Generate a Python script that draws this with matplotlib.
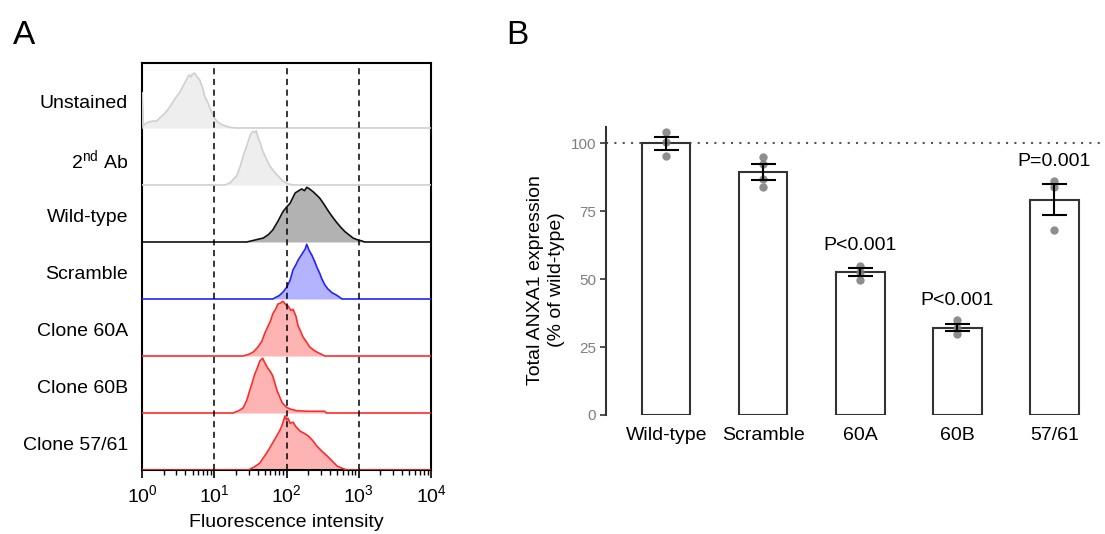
import numpy as np
import matplotlib
matplotlib.use("Agg")
import matplotlib.pyplot as plt
from matplotlib.ticker import LogLocator, NullFormatter

plt.rcParams['font.family'] = ['Liberation Sans', 'DejaVu Sans']
plt.rcParams['mathtext.default'] = 'regular'

# ---- panel A: flow cytometry histograms (log10 intensity, normalised count)
samples = ["Unstained", "2$^{nd}$ Ab", "Wild-type", "Scramble",
           "Clone 60A", "Clone 60B", "Clone 57/61"]

unstained_x = [0.0, 0.02, 0.08, 0.14, 0.20, 0.25, 0.32, 0.39, 0.46, 0.52, 0.57, 0.62, 0.65,
               0.68, 0.70, 0.73, 0.76, 0.80, 0.84, 0.87, 0.91, 0.95, 1.00, 1.05, 1.12, 1.22, 1.30]
unstained_h = [0.62, 0.05, 0.10, 0.12, 0.12, 0.18, 0.26, 0.38, 0.52, 0.62, 0.74, 0.86, 0.93,
               0.90, 0.95, 0.96, 0.90, 0.84, 0.70, 0.55, 0.45, 0.32, 0.18, 0.10, 0.05, 0.01, 0.0]

ab2_x = [1.15, 1.22, 1.31, 1.36, 1.40, 1.44, 1.47, 1.50, 1.53, 1.56, 1.58, 1.61, 1.64,
         1.67, 1.72, 1.77, 1.82, 1.86, 1.95, 2.02, 2.09]
ab2_h = [0.0, 0.04, 0.16, 0.33, 0.51, 0.65, 0.77, 0.88, 0.94, 0.92, 0.95, 0.82, 0.72,
         0.60, 0.46, 0.33, 0.25, 0.19, 0.07, 0.02, 0.0]

wt_x = [1.45, 1.55, 1.68, 1.75, 1.81, 1.88, 1.95, 2.00, 2.05, 2.12, 2.17, 2.21, 2.25, 2.28,
        2.32, 2.37, 2.42, 2.46, 2.52, 2.57, 2.63, 2.69, 2.75, 2.81, 2.92, 3.00, 3.04, 3.08]
wt_h = [0.0, 0.03, 0.07, 0.13, 0.21, 0.36, 0.53, 0.61, 0.68, 0.86, 0.90, 0.93, 0.90, 0.96,
        0.93, 0.88, 0.82, 0.77, 0.66, 0.56, 0.45, 0.35, 0.26, 0.18, 0.07, 0.03, 0.02, 0.0]

scr_x = [1.81, 1.90, 1.95, 2.00, 2.05, 2.09, 2.13, 2.16, 2.20, 2.23, 2.26, 2.28, 2.31,
         2.35, 2.39, 2.42, 2.46, 2.49, 2.53, 2.57, 2.63, 2.69, 2.77]
scr_h = [0.0, 0.06, 0.12, 0.20, 0.33, 0.51, 0.60, 0.68, 0.76, 0.82, 0.88, 0.96, 0.86,
         0.77, 0.66, 0.56, 0.45, 0.35, 0.25, 0.18, 0.11, 0.07, 0.0]

c60a_x = [1.40, 1.48, 1.54, 1.60, 1.66, 1.70, 1.74, 1.78, 1.81, 1.85, 1.88, 1.92, 1.95,
          1.99, 2.02, 2.06, 2.09, 2.13, 2.16, 2.20, 2.23, 2.28, 2.32, 2.38, 2.42, 2.53]
c60a_h = [0.0, 0.03, 0.07, 0.15, 0.26, 0.40, 0.51, 0.62, 0.74, 0.82, 0.91, 0.93, 0.96,
          0.90, 0.88, 0.80, 0.82, 0.70, 0.53, 0.42, 0.33, 0.24, 0.16, 0.10, 0.07, 0.0]

c60b_x = [1.26, 1.34, 1.40, 1.45, 1.49, 1.53, 1.56, 1.60, 1.63, 1.67, 1.70, 1.74, 1.78,
          1.81, 1.84, 1.87, 1.94, 2.00, 2.05, 2.14, 2.30, 2.53, 2.55]
c60b_h = [0.0, 0.04, 0.09, 0.22, 0.39, 0.55, 0.68, 0.80, 0.91, 0.96, 0.88, 0.79, 0.72,
          0.65, 0.52, 0.39, 0.18, 0.10, 0.07, 0.04, 0.03, 0.03, 0.0]

c5761_x = [1.47, 1.55, 1.63, 1.70, 1.77, 1.82, 1.87, 1.91, 1.94, 1.98, 2.00, 2.02, 2.05,
           2.09, 2.13, 2.19, 2.25, 2.30, 2.36, 2.42, 2.49, 2.56, 2.63, 2.70, 2.77, 2.84]
c5761_h = [0.0, 0.05, 0.12, 0.25, 0.39, 0.50, 0.61, 0.70, 0.79, 0.95, 0.88, 0.91, 0.82,
           0.84, 0.76, 0.68, 0.64, 0.60, 0.52, 0.42, 0.33, 0.25, 0.16, 0.07, 0.03, 0.0]

hist_x = [unstained_x, ab2_x, wt_x, scr_x, c60a_x, c60b_x, c5761_x]
hist_h = [unstained_h, ab2_h, wt_h, scr_h, c60a_h, c60b_h, c5761_h]
line_cols = ["#cfcfcf", "#cfcfcf", "#111111", "#2323ff", "#ff2b2b", "#ff2b2b", "#ff2b2b"]
fill_cols = ["#eeeeee", "#eeeeee", "#b2b2b2", "#b3b3ff", "#ffb4b4", "#ffb4b4", "#ffb4b4"]

# ---- panel B: total ANXA1 expression
groups = ["Wild-type", "Scramble", "60A", "60B", "57/61"]
means = [100.0, 89.4, 52.5, 32.2, 79.3]
sems = [2.3, 2.9, 1.5, 1.3, 5.6]
reps = [[104.2, 100.4, 95.2], [94.8, 92.3, 86.7, 83.8], [55.0, 52.5, 49.8],
        [34.8, 32.0, 29.8], [86.0, 84.0, 68.0]]
pvals = ["", "", "P<0.001", "P<0.001", "P=0.001"]

fig = plt.figure(figsize=(11.05, 5.34), dpi=100)
W, H = 1105, 534

axA = fig.add_axes([142 / W, 64 / H, 289 / W, 407 / H])
n = len(samples)
for i in range(n):
    off = n - 1 - i
    xs = 10 ** np.array(hist_x[i])
    hs = np.array(hist_h[i])
    axA.fill_between(xs, off, off + hs, color=fill_cols[i], lw=0, zorder=2)
    lx = np.concatenate([[1], xs, [1e4]])
    ly = np.concatenate([[0], hs, [0]]) + off
    axA.plot(lx, ly, color=line_cols[i], lw=1.2, zorder=3)
for v in [10, 100, 1000]:
    axA.axvline(v, color="black", ls=(0, (4, 3)), lw=1.1, zorder=4)
axA.set_xscale("log")
axA.set_xlim(1, 1e4)
axA.set_ylim(0, 7.14)
axA.set_xticks([1, 10, 100, 1000, 10000])
axA.xaxis.set_minor_locator(LogLocator(base=10, subs=np.arange(2, 10), numticks=20))
axA.xaxis.set_minor_formatter(NullFormatter())
axA.set_yticks([n - 1 - i + 0.47 for i in range(n)], samples)
axA.tick_params(axis="y", length=0, pad=10, labelsize=14)
axA.tick_params(axis="x", which="major", direction="out", length=6, width=1.2, labelsize=14, pad=4)
axA.tick_params(axis="x", which="minor", direction="out", length=3.5, width=1.0)
for s in axA.spines.values():
    s.set_linewidth(1.5)
axA.set_xlabel("Fluorescence intensity", fontsize=14, labelpad=6)

axB = fig.add_axes([606 / W, 119 / H, 495 / W, 288 / H])
xb = np.arange(len(groups))
axB.bar(xb, means, width=0.5, color="white", edgecolor="#333333", lw=1.5, zorder=2)
for i, r in enumerate(reps):
    axB.plot([xb[i]] * len(r), r, "o", color="#7a7a7a", ms=6, alpha=0.85, mec="none",
             zorder=3, clip_on=False)
axB.errorbar(xb, means, yerr=sems, fmt="none", ecolor="black", elinewidth=1.5,
             capsize=9, capthick=1.5, zorder=4)
for i, p in enumerate(pvals):
    if p:
        axB.text(xb[i], means[i] + sems[i] + 8.5, p, ha="center", va="center", fontsize=14)
axB.axhline(100, color="#555555", ls=(0, (1, 3)), lw=1.5, zorder=1)
axB.set_xlim(-0.62, 4.48)
axB.set_ylim(0, 106)
axB.set_yticks([0, 25, 50, 75, 100])
axB.tick_params(axis="y", length=4, width=1.2, color="#333333", labelsize=11,
                labelcolor="#7f7f7f", pad=3)
axB.set_xticks(xb, groups)
axB.tick_params(axis="x", length=0, labelsize=14, pad=9)
for k in ["top", "right", "bottom"]:
    axB.spines[k].set_visible(False)
axB.spines["left"].set_linewidth(1.5)
axB.spines["left"].set_color("#333333")

fig.text(546 / W, 1 - 280 / H, "Total ANXA1 expression\n(% of wild-type)", rotation=90,
         ha="center", va="center", fontsize=14, linespacing=1.3)

fig.text(24 / W, 1 - 35 / H, "A", fontsize=24, ha="center", va="center")
fig.text(517 / W, 1 - 35 / H, "B", fontsize=24, ha="center", va="center")

fig.savefig("out.png", dpi=100)
